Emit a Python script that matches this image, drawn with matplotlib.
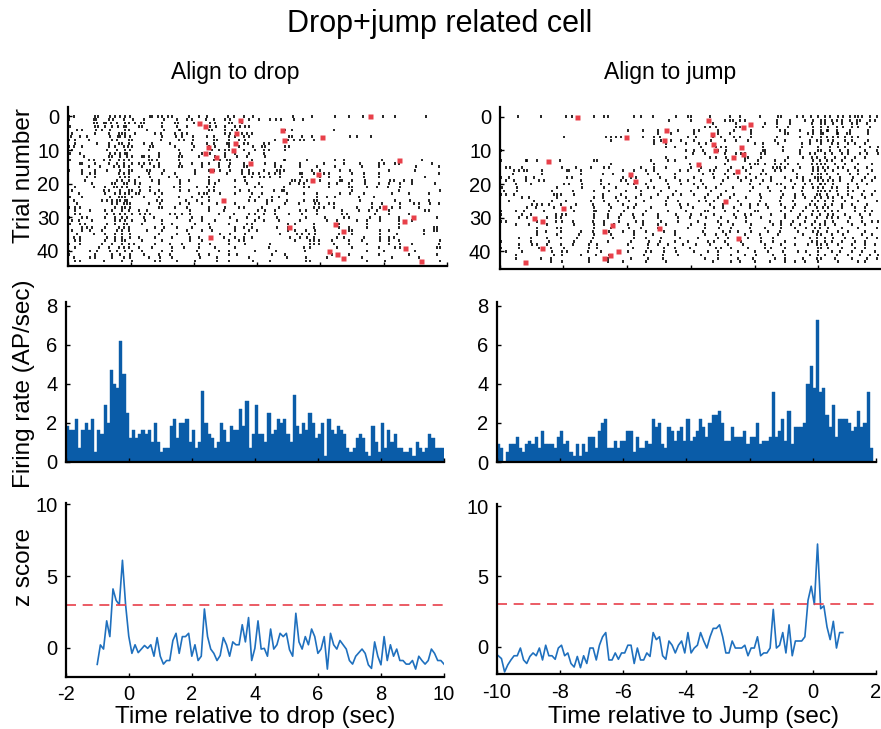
import numpy as np
import matplotlib.pyplot as plt

plt.rcParams['font.family'] = ['Liberation Sans', 'DejaVu Sans']
plt.rcParams['axes.unicode_minus'] = False

nan = np.nan

# spike times (s) per trial, aligned to drop
drop_spikes = [
    [-1.95, -1.79, -1.12, -1.04, -0.65, -0.49, -0.33, -0.17, -0.02, 0.59, 0.67, 0.86, 0.98, 1.17, 1.30, 1.85, 2.15, 2.42, 3.06, 3.25, 3.58, 3.86, 5.12, 5.74, 6.45, 6.90, 7.35, 7.98, 8.35, 9.35],
    [-1.97, -1.18, -1.09, -0.70, -0.57, -0.23, 0.07, 0.41, 1.04, 1.46, 1.78, 1.94, 2.38, 2.62, 2.99, 3.15, 3.73, 4.05, 4.42, 4.60, 4.76, 5.15, 5.45],
    [-1.16, -1.07, -0.86, -0.78, -0.63, -0.44, -0.17, -0.07, 0.12, 0.32, 0.41, 0.98, 1.41, 1.49, 1.99, 2.52, 2.65, 3.10, 3.20, 3.52],
    [-1.92, -1.12, -1.04, -0.81, -0.60, -0.41, -0.23, -0.15, 0.27, 0.35, 0.98, 1.46, 1.78, 2.52, 2.70, 2.99, 3.31, 3.47, 3.60, 3.73],
    [-1.70, -1.55, -1.10, -0.91, -0.65, -0.17, -0.07, 0.51, 1.04, 1.51, 1.57, 2.46, 2.57, 2.99, 3.20, 3.36, 4.89, 5.10, 6.42],
    [-1.86, -1.12, -0.70, -0.39, -0.28, -0.17, 0.14, 0.75, 0.96, 1.41, 1.62, 1.78, 2.99, 3.13, 3.52, 3.67, 3.83],
    [-1.90, -1.60, -1.39, -0.65, -0.41, -0.33, -0.20, -0.02, 0.98, 1.43, 1.62, 1.96, 2.41, 2.62, 3.12, 3.31, 3.57, 3.73, 5.00, 5.10, 5.42, 5.74, 6.95, 7.16, 7.61],
    [-1.97, -1.76, -1.34, -0.60, -0.44, -0.07, 0.04, 0.95, 1.53, 1.67, 1.97, 2.62, 2.73, 3.12, 3.41, 3.60, 4.57, 4.97, 5.15, 5.37, 5.47, 5.79],
    [-1.76, -1.07, -0.70, -0.39, -0.28, -0.07, 0.41, 0.67, 1.25, 1.94, 2.41, 2.62, 3.04, 3.10, 3.57, 3.70, 4.20, 4.36],
    [-1.95, -1.81, -1.55, -0.70, -0.49, -0.23, -0.09, 0.04, 0.60, 0.70, 1.41, 1.99, 2.46, 2.67, 3.10, 3.41, 3.88, 4.15, 4.26, 4.87, 5.00],
    [-1.86, -0.76, -0.44, -0.17, -0.02, 0.56, 1.51, 1.94, 2.57, 2.80, 2.99, 3.10, 3.57, 3.94, 4.20, 4.38, 4.89],
    [-1.92, -1.60, -0.65, -0.49, -0.33, -0.17, -0.12, 0.88, 1.57, 2.25, 2.36, 2.52, 2.99, 3.31, 3.73, 4.20],
    [-1.49, -0.70, -0.60, -0.33, -0.12, 0.04, 0.35, 0.40, 0.56, 0.88, 1.51, 1.62, 2.15, 2.67, 2.99, 3.36, 3.67, 4.26],
    [-1.92, -1.34, -1.18, -0.86, -0.65, -0.39, -0.23, -0.07, 0.56, 0.67, 0.82, 1.51, 2.62, 2.83, 3.04, 3.15, 3.83, 4.84, 4.89, 5.58, 6.47, 6.74, 7.95, 9.22],
    [-1.60, -1.55, -1.12, -0.70, -0.44, -0.23, 0.04, 0.25, 0.40, 0.61, 0.88, 1.57, 1.94, 2.25, 2.46, 2.78, 3.15, 3.57, 4.26, 4.57, 5.37, 6.10, 6.74, 7.27, 7.85, 8.00, 8.35, 8.48, 9.54],
    [-1.34, -0.97, -0.54, -0.39, -0.23, -0.07, 0.35, 0.72, 0.88, 1.51, 1.62, 2.25, 2.78, 3.10, 3.57, 3.67, 4.57, 4.76, 5.37, 5.89, 6.47, 7.32, 7.85, 9.04, 9.75],
    [-1.97, -1.55, -1.12, -0.76, -0.33, -0.07, 0.04, 0.51, 0.61, 1.04, 2.04, 2.46, 2.62, 2.83, 3.15, 3.52, 3.73, 4.20, 4.63, 4.73, 4.84, 5.74, 6.00, 6.63, 6.95, 8.16, 9.01],
    [-1.55, -1.28, -1.12, -0.39, -0.23, -0.07, 0.56, 0.98, 1.41, 2.04, 3.04, 3.52, 3.73, 3.88, 4.05, 4.36, 4.57, 4.73, 5.37, 5.42, 5.79, 6.10, 6.26, 7.00, 7.37, 7.85, 9.75],
    [-1.39, -1.12, -0.33, -0.17, -0.07, 0.25, 0.61, 1.20, 1.46, 2.46, 3.57, 3.62, 3.83, 4.10, 4.20, 4.42, 4.73, 5.42, 6.00, 6.26, 6.63, 7.37, 7.85, 9.32],
    [-1.99, -1.44, -0.44, -0.28, -0.07, 0.14, 0.67, 0.88, 1.57, 1.83, 2.46, 2.78, 3.31, 3.62, 5.10, 5.21, 5.37, 5.58, 6.00, 6.63, 6.68, 7.00, 7.42, 8.21, 8.32, 8.64, 8.90],
    [-1.23, -0.60, -0.49, -0.23, -0.12, 0.14, 0.30, 0.88, 1.57, 2.46, 2.67, 3.67, 4.05, 5.05, 5.31, 5.47, 6.26, 6.53, 6.90, 7.42, 7.85, 8.16, 8.53, 8.90, 9.64],
    [-1.76, -1.18, -0.81, -0.54, -0.44, -0.28, -0.12, 0.25, 0.59, 1.36, 1.57, 2.09, 2.41, 2.62, 3.31, 3.94, 4.15, 4.84, 5.47, 5.63, 6.26, 6.90, 7.00, 7.48, 7.79, 8.14, 8.53],
    [-1.86, -0.86, -0.70, -0.33, -0.07, 0.04, 0.30, 0.61, 0.88, 1.57, 1.83, 2.46, 2.62, 3.46, 3.73, 4.52, 4.79, 4.84, 7.00, 8.48, 9.80],
    [-1.99, -1.65, -0.83, -0.49, -0.33, -0.17, -0.07, 0.16, 0.27, 0.77, 0.98, 2.15, 2.30, 2.41, 2.83, 3.31, 3.83, 4.15, 4.94, 5.47, 5.89, 6.63, 6.95, 7.37, 8.27, 8.80, 9.43],
    [-1.92, -1.55, -0.65, -0.39, -0.28, -0.17, 0.04, 0.40, 0.88, 1.51, 1.94, 2.25, 2.46, 3.78, 4.05, 4.47, 4.68, 5.89, 6.21, 6.47, 7.21, 7.69],
    [-1.81, -0.91, -0.76, -0.60, -0.44, -0.33, -0.17, -0.12, 0.82, 0.98, 1.73, 2.09, 2.46, 3.73, 3.94, 4.31, 4.47, 4.94, 5.47, 5.79, 5.89, 7.27, 8.37, 8.85, 9.43],
    [-1.70, -0.60, -0.44, -0.23, -0.12, -0.02, 0.56, 0.93, 1.57, 1.83, 2.25, 2.73, 3.31, 4.31, 4.89, 5.31, 5.84, 5.95, 6.26, 6.42, 7.64, 7.95, 8.53, 8.96, 9.11, 9.48, 9.75],
    [-1.97, -1.76, -1.60, -0.49, -0.28, -0.17, -0.02, 0.88, 0.98, 1.41, 1.78, 2.46, 2.99, 3.41, 3.57, 4.15, 4.68, 5.79, 5.95, 6.10, 6.42, 7.16, 7.64, 7.90, 8.27, 8.53, 9.11],
    [-1.76, -1.28, -0.81, -0.60, -0.28, -0.07, 0.25, 0.51, 1.88, 2.46, 2.94, 4.02, 4.26, 4.57, 5.37, 5.53, 5.89, 6.68, 7.21, 7.53, 7.79, 8.16, 9.32, 9.43],
    [-1.76, -1.60, -0.76, -0.54, -0.33, -0.17, 0.04, 0.30, 0.46, 0.61, 1.25, 1.41, 1.62, 1.88, 2.78, 3.25, 3.73, 3.94, 4.20, 4.57, 5.00, 5.42, 5.89, 6.68, 6.84, 7.74, 8.16, 8.80],
    [-1.97, -1.55, -1.39, -0.81, -0.49, -0.28, -0.12, 0.40, 0.72, 1.46, 1.94, 2.25, 3.15, 3.67, 4.05, 4.63, 5.53, 6.16, 6.74, 6.90, 7.58, 7.90, 8.48, 9.69],
    [-1.86, -1.65, -1.23, -0.49, -0.33, -0.17, 0.04, 0.46, 0.98, 1.88, 2.25, 2.67, 3.36, 3.94, 4.20, 4.68, 5.37, 6.21, 6.53, 7.16, 7.48, 7.90, 8.48, 8.90],
    [-1.92, -1.60, -1.44, -0.76, -0.49, -0.23, -0.12, 0.35, 0.98, 1.30, 2.04, 2.46, 3.10, 3.67, 3.83, 4.99, 5.21, 5.79, 6.58, 7.48, 8.48],
    [-1.55, -1.39, -1.23, -0.81, -0.39, -0.23, -0.07, 0.77, 1.04, 1.46, 1.94, 2.52, 3.31, 3.57, 3.83, 4.63, 4.99, 5.79, 6.58, 6.90, 7.48, 8.48, 9.59, 9.69],
    [-1.86, -1.55, -1.28, -0.91, -0.44, -0.28, -0.07, 0.51, 0.98, 1.78, 2.25, 2.57, 3.31, 3.73, 3.99, 4.99, 5.21, 5.53, 5.84, 6.90, 7.00, 7.90, 8.16, 9.27, 9.59, 9.69],
    [-1.70, -1.18, -0.81, -0.49, -0.28, -0.02, 0.88, 1.46, 1.83, 2.83, 3.15, 3.62, 4.73, 5.26, 5.42, 5.63, 5.84, 6.58, 7.00, 7.90, 8.43, 9.27],
    [-1.81, -1.60, -0.76, -0.49, -0.28, -0.02, 0.25, 0.77, 1.30, 1.88, 2.15, 2.94, 3.31, 3.57, 3.83, 5.05, 5.37, 5.58, 5.79, 6.53, 6.74, 7.37, 7.90, 8.16, 8.32],
    [-1.76, -1.60, -0.81, -0.49, -0.28, -0.17, 0.35, 0.98, 1.88, 2.25, 3.10, 3.41, 3.57, 5.21, 5.68, 5.79, 5.95, 6.37, 6.90, 7.32, 7.90, 8.16, 8.48, 9.80],
    [-1.97, -1.60, -0.91, -0.60, -0.28, -0.07, 0.09, 0.77, 1.25, 1.62, 2.15, 2.52, 3.10, 3.62, 4.42, 5.68, 5.79, 5.95, 6.42, 6.90, 7.48, 8.16, 8.53, 8.90, 9.75],
    [-1.76, -1.02, -0.70, -0.39, -0.23, -0.07, 0.25, 0.67, 1.30, 1.67, 2.15, 2.67, 3.31, 4.36, 5.47, 5.68, 6.53, 7.00, 7.85, 8.37, 8.53, 9.69, 9.80],
    [-1.97, -1.28, -1.07, -0.65, -0.44, -0.17, 0.04, 0.35, 0.98, 1.30, 2.09, 2.78, 3.10, 3.94, 4.60, 5.50, 7.48, 8.00, 9.00],
    [-1.97, -1.12, -0.60, -0.33, -0.02, 0.40, 0.88, 1.25, 2.15, 2.46, 3.10, 3.36, 4.47, 4.89, 6.37, 6.90, 7.85, 8.80, 9.69],
    [-1.81, -1.28, -1.12, -0.60, -0.23, -0.02, 0.56, 0.93, 1.30, 2.20, 2.73, 3.73, 4.94, 5.53, 6.21, 7.32, 8.27, 9.11],
    [-1.76, -1.60, -0.86, -0.28, 0.04, 0.77, 0.93, 1.46, 2.04, 2.73, 3.10, 3.88, 4.42, 5.53, 5.68, 7.48, 8.06, 9.80],
]

# spike times (s) per trial, aligned to jump
jump_spikes = [
    [-9.42, -8.71, -7.92, -7.74, -7.03, -6.72, -6.61, -5.79, -5.56, -5.19, -4.46, -4.10, -3.99, -3.41, -2.78, -2.47, -1.84, -1.26, -1.16, -0.68, -0.47, -0.23, -0.02, 0.21, 0.37, 0.63, 0.79, 1.00, 1.15, 1.26, 1.36, 1.63, 1.84],
    [-4.67, -3.99, -2.94, -2.78, -2.68, -2.47, -2.31, -1.31, -0.89, -0.42, -0.16, 0.10, 0.21, 0.42, 0.58, 0.73, 1.00, 1.21, 1.31, 1.63, 1.78],
    [-3.31, -2.57, -1.68, -1.31, -0.89, -0.21, 0.10, 0.21, 0.47, 0.73, 1.05, 1.21, 1.52],
    [-3.57, -3.41, -3.20, -2.57, -2.47, -1.73, -1.31, -0.95, -0.16, 0.10, 0.31, 0.58, 0.79, 1.05, 1.26, 1.63],
    [-5.98, -5.51, -5.04, -4.41, -3.89, -3.73, -3.15, -2.63, -2.10, -1.21, -1.05, -0.58, -0.16, 0.10, 0.26, 0.31, 0.58, 1.00, 1.57],
    [-5.04, -4.62, -3.89, -3.15, -2.78, -2.10, -1.05, -0.95, -0.32, -0.16, 0.10, 0.16, 0.58, 0.63, 0.89, 1.00, 1.57],
    [-7.98, -6.66, -6.51, -6.35, -6.19, -5.51, -5.14, -4.98, -4.10, -3.83, -3.31, -3.05, -2.63, -2.47, -2.10, -1.31, -0.58, -0.21, 0.10, 0.26, 0.47, 0.63, 0.84, 1.05, 1.26],
    [-6.51, -5.14, -4.93, -4.62, -4.30, -3.89, -3.36, -2.94, -2.57, -2.21, -1.37, -1.05, -0.26, -0.05, 0.10, 0.31, 0.47, 0.84, 1.05, 1.57],
    [-5.14, -4.77, -4.15, -3.73, -3.52, -1.99, -1.73, -1.26, -0.52, -0.26, 0.10, 0.42, 0.63, 0.94, 1.15, 1.47],
    [-4.77, -4.51, -3.68, -3.20, -3.05, -2.89, -1.73, -1.10, -0.52, 0.00, 0.37, 0.63, 0.84, 1.31, 1.63, 1.89],
    [-9.97, -4.14, -3.89, -3.62, -3.15, -2.89, -1.73, -1.68, -1.10, -0.58, 0.00, 0.10, 0.37, 0.68, 0.94, 1.47, 1.84],
    [-3.94, -3.57, -2.94, -2.57, -2.42, -2.31, -1.79, -1.68, -0.58, -0.26, -0.10, 0.21, 0.42, 0.73, 0.94, 1.31, 1.52, 1.89],
    [-4.77, -4.15, -3.41, -3.20, -2.89, -2.31, -2.21, -1.79, -0.95, -0.47, -0.21, -0.05, 0.21, 0.52, 0.84, 1.15, 1.47],
    [-9.97, -9.18, -9.13, -8.82, -8.10, -7.03, -6.93, -5.25, -4.72, -4.51, -2.84, -2.31, -1.89, -1.37, -1.05, -0.16, 0.05, 0.26, 0.42, 0.73, 1.05],
    [-6.51, -5.14, -4.04, -3.73, -2.94, -2.15, -1.99, -1.89, -1.68, -1.37, -1.16, -0.95, -0.63, -0.21, -0.05, 0.10, 0.21, 0.52, 0.84, 1.26, 1.68],
    [-9.81, -9.66, -9.29, -8.03, -7.61, -7.14, -6.72, -6.56, -5.56, -5.14, -4.77, -3.99, -3.68, -3.20, -2.73, -2.36, -2.10, -1.42, -1.31, -1.21, -1.05, -0.58, -0.16, 0.00, 0.16, 0.31, 0.63, 0.79, 1.15, 1.52],
    [-9.55, -9.39, -9.24, -9.13, -8.66, -7.87, -7.82, -7.45, -6.14, -5.77, -5.40, -5.14, -4.35, -4.10, -3.73, -3.41, -3.26, -2.84, -2.26, -1.73, -1.37, -1.16, -0.79, -0.16, 0.00, 0.21, 0.47, 0.94, 1.26, 1.68],
    [-9.57, -8.66, -7.45, -6.77, -6.45, -5.35, -5.04, -4.51, -3.62, -3.31, -2.94, -2.63, -2.15, -1.79, -1.63, -0.68, -0.21, 0.00, 0.10, 0.26, 0.63, 1.00, 1.26, 1.57],
    [-9.97, -9.71, -9.18, -8.92, -7.87, -7.74, -6.14, -5.88, -5.72, -4.98, -4.51, -3.89, -3.26, -2.84, -2.52, -2.26, -1.94, -1.47, -1.05, -0.68, -0.47, -0.10, 0.00, 0.10, 0.37, 0.68, 1.10, 1.47, 1.78],
    [-9.81, -9.55, -9.18, -8.76, -8.61, -7.45, -6.82, -6.19, -6.03, -5.25, -4.77, -4.35, -4.10, -3.68, -2.99, -2.42, -2.10, -1.73, -1.47, -0.84, -0.47, -0.26, 0.00, 0.16, 0.31, 0.47, 0.68, 1.05, 1.36, 1.68],
    [-9.50, -9.03, -7.98, -7.82, -7.40, -6.82, -6.56, -5.98, -5.77, -5.40, -4.72, -4.30, -3.89, -3.62, -3.05, -2.15, -1.84, -1.31, -1.16, -0.73, -0.42, -0.21, 0.05, 0.10, 0.21, 0.47, 0.94, 1.21, 1.52],
    [-9.92, -9.45, -8.19, -7.40, -6.72, -6.35, -5.72, -5.35, -5.14, -4.67, -3.78, -3.52, -3.20, -2.68, -2.05, -1.58, -1.05, -0.79, -0.47, -0.16, 0.00, 0.16, 0.42, 0.58, 0.94, 1.26],
    [-9.87, -9.45, -8.34, -7.71, -7.03, -6.56, -6.03, -5.56, -4.93, -4.46, -3.99, -3.36, -2.89, -2.15, -1.52, -1.16, -0.52, 0.00, 0.10, 0.21, 0.37, 0.58, 0.94, 1.10, 1.42, 1.78],
    [-9.97, -9.81, -9.55, -8.29, -8.19, -8.08, -7.66, -6.77, -6.19, -5.56, -5.04, -4.56, -4.30, -3.89, -3.47, -3.05, -2.63, -1.84, -1.10, -0.73, -0.47, -0.05, 0.05, 0.26, 0.63, 0.94, 1.36, 1.68],
    [-9.29, -9.08, -8.19, -7.03, -6.77, -6.35, -6.03, -5.72, -5.25, -4.72, -3.57, -3.15, -2.78, -2.26, -1.79, -1.16, -0.73, -0.42, -0.10, 0.10, 0.31, 0.47, 0.73, 1.05, 1.47],
    [-9.71, -8.92, -8.34, -7.92, -7.14, -6.72, -6.30, -5.93, -5.46, -4.77, -4.41, -3.73, -3.52, -3.26, -2.52, -1.84, -1.21, -0.79, -0.21, 0.00, 0.21, 0.47, 0.84, 1.26, 1.84],
    [-8.97, -8.82, -8.66, -8.45, -8.08, -7.61, -7.08, -6.56, -6.14, -5.72, -4.77, -4.35, -4.10, -3.41, -2.99, -2.42, -2.15, -1.89, -1.63, -1.16, -0.73, -0.26, -0.10, 0.21, 0.42, 0.73, 1.05, 1.52],
    [-9.13, -8.87, -8.29, -7.76, -7.03, -6.51, -5.98, -5.77, -5.25, -4.30, -3.94, -3.26, -2.99, -2.63, -2.15, -1.58, -1.05, -0.79, -0.37, -0.05, 0.16, 0.31, 0.73, 1.15, 1.47],
    [-9.97, -9.50, -9.24, -8.61, -7.66, -7.03, -6.98, -6.56, -6.09, -5.40, -4.72, -4.15, -3.57, -3.47, -2.94, -2.52, -1.99, -1.89, -1.16, -0.84, -0.47, -0.16, 0.00, 0.21, 0.42, 0.63, 1.15, 1.47, 1.68],
    [-9.97, -9.29, -9.03, -8.24, -8.03, -7.92, -7.03, -6.61, -6.19, -5.82, -5.51, -5.04, -4.46, -3.99, -3.68, -3.26, -2.63, -2.31, -2.10, -1.47, -1.05, -0.58, -0.21, 0.05, 0.31, 0.47, 0.84, 1.31, 1.63],
    [-9.39, -9.13, -8.50, -8.24, -8.08, -7.03, -6.61, -6.24, -5.77, -5.04, -4.41, -4.04, -3.52, -3.05, -2.57, -2.26, -1.79, -1.05, -0.63, -0.37, -0.05, 0.26, 0.42, 0.63, 1.00, 1.36],
    [-9.97, -9.81, -8.82, -8.24, -8.03, -7.71, -7.08, -6.72, -6.24, -5.72, -5.51, -4.93, -4.41, -3.78, -3.15, -2.84, -2.26, -1.52, -1.16, -0.79, -0.42, -0.10, 0.21, 0.47, 0.94, 1.36, 1.68, 1.89],
    [-9.50, -9.08, -8.50, -7.66, -7.03, -6.72, -6.40, -5.98, -5.51, -5.04, -4.77, -3.99, -3.57, -3.05, -2.68, -2.10, -1.42, -1.16, -0.84, -0.58, -0.21, 0.05, 0.21, 0.52, 1.05, 1.47],
    [-8.82, -8.19, -8.08, -7.03, -6.51, -5.93, -5.56, -5.04, -4.10, -3.57, -3.10, -2.73, -2.15, -1.68, -1.16, -0.73, -0.37, -0.10, 0.05, 0.31, 0.73, 1.26, 1.84],
    [-8.82, -8.55, -8.08, -7.45, -7.08, -6.56, -6.14, -5.77, -5.40, -4.83, -4.51, -3.62, -2.99, -2.78, -2.52, -2.10, -1.58, -1.21, -0.63, -0.16, 0.00, 0.26, 0.63, 0.94, 1.47],
    [-8.82, -8.19, -7.50, -7.03, -6.51, -5.77, -5.19, -4.51, -3.57, -3.20, -2.89, -2.31, -1.84, -1.26, -0.47, -0.05, 0.10, 0.42, 0.79, 1.36, 1.68],
    [-9.39, -9.03, -8.50, -8.08, -7.56, -7.08, -6.45, -5.77, -5.40, -4.93, -4.35, -3.78, -3.15, -2.84, -2.21, -1.79, -1.42, -0.73, -0.26, -0.05, 0.21, 0.47, 0.84, 1.10, 1.52, 1.84],
    [-9.97, -9.03, -8.45, -7.66, -7.14, -6.61, -5.88, -5.30, -4.98, -4.51, -4.10, -3.47, -3.26, -2.94, -2.42, -1.79, -1.42, -1.05, -0.21, -0.05, 0.21, 0.42, 0.73, 1.15, 1.47],
    [-9.39, -8.97, -8.82, -8.50, -8.08, -7.71, -7.19, -6.93, -5.98, -5.35, -5.04, -4.72, -4.25, -3.83, -3.41, -2.84, -2.36, -1.68, -1.16, -0.73, -0.32, -0.05, 0.10, 0.26, 0.63, 1.05, 1.47, 1.78],
    [-9.97, -9.39, -8.76, -8.40, -7.98, -7.19, -6.93, -5.82, -5.35, -4.83, -4.51, -4.04, -3.20, -3.05, -2.73, -2.21, -1.68, -1.47, -1.05, 0.00, 0.10, 0.31, 0.73, 1.15, 1.47],
    [-9.81, -9.29, -8.34, -8.03, -7.87, -7.24, -6.82, -5.98, -5.40, -5.25, -4.83, -4.46, -3.89, -3.47, -3.15, -2.52, -1.99, -1.58, -1.10, -0.63, -0.37, 0.00, 0.42, 0.68, 1.05, 1.36, 1.78],
    [-9.50, -8.29, -8.03, -7.45, -6.98, -6.56, -5.46, -4.88, -4.41, -3.68, -3.15, -2.73, -2.31, -1.94, -1.42, -1.05, -0.26, 0.00, 0.21, 0.58, 0.94, 1.31, 1.63, 1.89],
    [-9.50, -8.71, -8.40, -7.19, -6.61, -5.88, -5.35, -4.88, -3.57, -3.15, -2.52, -2.05, -1.37, -1.05, -0.47, -0.05, 0.10, 0.52, 1.05, 1.52, 1.84],
    [-8.40, -8.03, -7.19, -6.61, -6.14, -5.40, -4.77, -3.31, -2.73, -2.47, -1.99, -1.52, -1.05, -0.73, -0.42, 0.00, 0.63, 1.26, 1.47],
]

# jump time relative to drop for each trial (nan: jump later than 10 s)
jump_delay = [7.57, 3.45, 2.15, 2.36, 4.78, 3.34, 6.04, 4.84, 3.30, 2.44,
              3.23, 2.36, 2.69, 8.48, 3.77, nan, 2.54, 5.91, nan, 5.75,
              nan, nan, nan, nan, nan, 2.93, nan, 8.00, nan, nan,
              8.92, 8.66, 6.46, 5.00, 6.72, nan, 2.51, nan, nan, 8.68,
              6.27, 6.52, 6.73, 9.20]

# firing rate (AP/sec), 0.1 s bins
drop_rate = [1.8, 1.6, 1.6, 2.2, 0.7, 1.6, 2.0, 1.6, 2.2, 0.5,
             1.6, 1.4, 2.9, 2.0, 4.7, 4.0, 3.8, 6.2, 4.5, 2.5,
             1.2, 1.6, 1.2, 1.4, 1.6, 1.4, 1.6, 1.0, 2.0, 1.0,
             0.5, 0.7, 0.7, 1.8, 2.2, 1.2, 2.0, 2.0, 2.2, 1.0,
             1.6, 0.7, 1.0, 3.6, 2.0, 1.4, 1.2, 0.7, 1.0, 2.0,
             1.6, 1.0, 1.8, 1.6, 1.6, 2.7, 1.8, 3.1, 0.7, 1.4,
             2.9, 1.4, 1.4, 1.0, 2.5, 1.4, 1.6, 2.2, 2.0, 2.2,
             1.4, 1.0, 3.4, 1.8, 1.4, 2.0, 1.6, 2.5, 2.0, 1.2,
             1.4, 2.0, 0.3, 2.2, 1.6, 1.4, 1.8, 1.6, 1.4, 0.7,
             0.5, 0.7, 1.2, 1.4, 1.2, 0.5, 0.3, 1.8, 1.0, 0.5,
             2.0, 0.7, 1.6, 1.0, 1.4, 0.7, 0.7, 0.5, 0.5, 0.7,
             0.3, 1.0, 0.7, 0.5, 0.7, 1.4, 1.2, 0.7, 0.7, 0.7]
jump_rate = [0.9, 0.7, 0.0, 0.5, 0.9, 0.9, 1.3, 0.7, 0.5, 0.9,
             1.1, 0.9, 1.3, 0.7, 1.6, 0.9, 0.9, 0.9, 0.7, 1.3,
             1.6, 0.9, 1.1, 0.5, 0.3, 0.9, 0.3, 0.9, 0.5, 1.3,
             1.3, 0.7, 1.6, 2.0, 2.2, 0.7, 0.7, 1.1, 0.7, 1.1,
             1.1, 1.6, 1.6, 0.5, 1.3, 0.7, 0.7, 1.1, 0.9, 2.2,
             1.8, 2.0, 0.9, 0.7, 1.8, 1.6, 1.1, 1.6, 1.8, 1.1,
             2.2, 1.1, 1.3, 1.6, 2.2, 1.8, 1.3, 2.0, 2.4, 2.4,
             2.6, 2.0, 1.1, 1.1, 1.8, 1.3, 1.3, 1.3, 1.6, 0.9,
             1.3, 1.3, 2.0, 0.9, 1.1, 1.1, 1.3, 3.6, 1.3, 1.6,
             2.2, 1.1, 2.6, 0.9, 1.8, 1.8, 1.8, 2.0, 4.0, 4.9,
             3.8, 7.3, 3.6, 3.8, 2.4, 1.8, 2.9, 1.3, 2.2, 2.2,
             2.2, 2.0, 1.6, 1.8, 2.6, 1.8, 2.0, 3.6, 0.7, 0.0]

# z scored firing rate
drop_z = [-1.17, 0.19, -0.1, 1.87, 0.77, 4.1, 3.3, 3.0, 6.1, 3.0,
          0.8, -0.4, 0.2, -0.35, -0.1, 0.15, -0.05, 0.2, -0.6, 0.7,
          -0.6, -1.15, -0.9, -0.9, 0.5, 1.0, -0.4, 0.77, 0.77, 1.0,
          -0.6, 0.2, -0.9, -0.6, 2.7, 0.77, -0.1, -0.4, -0.9, -0.55,
          0.7, 0.2, -0.6, 0.4, 0.2, 0.2, 1.6, 0.4, 2.1, -0.9,
          -0.05, 1.87, -0.1, -0.05, -0.6, 1.3, -0.1, 0.2, 1.0, 0.77,
          1.0, -0.15, -0.6, 2.4, 0.4, -0.1, 0.77, 0.2, 1.3, 0.77,
          -0.4, -0.1, 0.77, -1.5, 1.0, 0.2, -0.1, 0.5, 0.2, -0.1,
          -0.9, -1.15, -0.6, -0.35, -0.1, -0.4, -1.2, -1.45, 0.4, -0.6,
          -1.2, 0.77, -0.9, 0.2, -0.6, -0.1, -0.9, -0.9, -1.15, -1.15,
          -0.9, -1.5, -0.6, -0.9, -1.15, -0.9, -0.1, -0.4, -0.9, -0.9,
          -1.15]
jump_z = [-0.65, -0.85, -1.8, -1.3, -0.95, -0.65, -0.65, -0.1, -0.95, -1.2,
          -0.7, -0.45, -0.65, -0.1, -0.95, 0.1, -0.65, -0.65, -0.9, -0.1,
          0.1, -0.65, -0.45, -1.2, -1.45, -0.7, -1.5, -0.65, -1.2, -0.1,
          -0.1, -0.95, 0.1, 0.7, 1.0, -0.95, -0.95, -0.45, -0.9, -0.45,
          -0.45, 0.1, 0.1, -1.2, -0.1, -0.95, -0.95, -0.45, -0.7, 1.0,
          0.5, 0.7, -0.65, -0.9, 0.4, 0.1, -0.45, 0.1, 0.4, -0.45,
          1.0, -0.45, -0.1, 0.1, 1.0, 0.4, -0.1, 0.7, 1.3, 1.3,
          1.55, 0.7, -0.45, -0.45, 0.4, -0.1, -0.1, -0.1, 0.1, -0.65,
          -0.1, -0.1, 0.7, -0.65, -0.45, -0.45, -0.1, 2.65, -0.1, 0.1,
          1.0, -0.45, 1.55, -0.65, 0.4, 0.4, 0.4, 0.7, 3.3, 4.3,
          3.0, 7.3, 2.7, 2.9, 1.4, 0.5, 1.8, -0.1, 1.0, 1.0]

z_threshold = 3

blue = '#0a5ca8'
line_blue = '#1f70be'
red = '#e8404a'


def axes_px(x0, y0, x1, y1):
    W, H = 881, 729
    return fig.add_axes([x0 / W, 1 - y1 / H, (x1 - x0) / W, (y1 - y0) / H])


def style(ax):
    for s in ['top', 'right']:
        ax.spines[s].set_visible(False)
    for s in ['left', 'bottom']:
        ax.spines[s].set_linewidth(1.6)
    ax.tick_params(direction='in', length=3, width=1, labelsize=14.5, pad=6)


fig = plt.figure(figsize=(8.81, 7.29), dpi=100)

ax_r1 = axes_px(67.7, 107, 446.7, 266)
ax_r2 = axes_px(499.6, 106.7, 882, 269)
ax_h1 = axes_px(65.7, 302, 444, 461.5)
ax_h2 = axes_px(496.7, 302, 876, 462)
ax_z1 = axes_px(65.7, 503, 444, 676.7)
ax_z2 = axes_px(496.7, 504, 876, 674.3)

n_trials = len(drop_spikes)
trials = np.arange(n_trials)
delay = np.array(jump_delay)

# rasters
ax_r1.eventplot(drop_spikes, lineoffsets=trials, linelengths=0.8, colors='k', linewidths=1.2)
ax_r1.plot(delay, trials, 's', color=red, ms=3.6, mec='none')
ax_r2.eventplot(jump_spikes, lineoffsets=trials, linelengths=0.8, colors='k', linewidths=1.2)
ax_r2.plot(-delay, trials, 's', color=red, ms=3.6, mec='none')
ax_r1.set_xlim(-2, 10)
ax_r1.set_ylim(44.5, -2.8)
ax_r2.set_xlim(-10, 2)
ax_r2.set_ylim(45.2, -3.0)
for ax in (ax_r1, ax_r2):
    ax.set_yticks([0, 10, 20, 30, 40])
    ax.tick_params(labelbottom=False)
ax_r1.set_xticks(np.arange(-2, 11, 2))
ax_r2.set_xticks(np.arange(-10, 3, 2))

# firing rate histograms
bin_w = 0.1
drop_edges = -2 + bin_w * np.arange(len(drop_rate))
jump_edges = -10 + bin_w * np.arange(len(jump_rate))
ax_h1.bar(drop_edges, drop_rate, width=bin_w, align='edge', color=blue, edgecolor=blue, linewidth=0.3)
ax_h2.bar(jump_edges, jump_rate, width=bin_w, align='edge', color=blue, edgecolor=blue, linewidth=0.3)
ax_h1.set_xlim(-2, 10)
ax_h2.set_xlim(-10, 2)
for ax in (ax_h1, ax_h2):
    ax.set_ylim(0, 8.2)
    ax.set_yticks([0, 2, 4, 6, 8])
    ax.tick_params(labelbottom=False)
ax_h1.set_xticks(np.arange(-2, 11, 2))
ax_h2.set_xticks(np.arange(-10, 3, 2))

# z scores
drop_t = -1 + bin_w * np.arange(len(drop_z))
jump_t = -9.95 + bin_w * np.arange(len(jump_z))
ax_z1.plot(drop_t, drop_z, color=line_blue, lw=1.2)
ax_z2.plot(jump_t, jump_z, color=line_blue, lw=1.2)
for ax in (ax_z1, ax_z2):
    ax.axhline(z_threshold, color=red, lw=1.2, ls=(0, (6, 4)))
    ax.set_yticks([0, 5, 10])
ax_z1.set_xlim(-2, 10)
ax_z1.set_ylim(-2.03, 10.1)
ax_z2.set_xlim(-10, 2)
ax_z2.set_ylim(-1.97, 10.15)
ax_z1.set_xticks(np.arange(-2, 11, 2))
ax_z2.set_xticks(np.arange(-10, 3, 2))

for ax in (ax_r1, ax_r2, ax_h1, ax_h2, ax_z1, ax_z2):
    style(ax)

# titles and labels
fig.text(440 / 881, 1 - 24 / 729, 'Drop+jump related cell', ha='center', va='center', fontsize=22)
fig.text(235 / 881, 1 - 72 / 729, 'Align to drop', ha='center', va='center', fontsize=16.5)
fig.text(670 / 881, 1 - 72 / 729, 'Align to jump', ha='center', va='center', fontsize=16.5)
fig.text(24 / 881, 1 - 176 / 729, 'Trial number', ha='center', va='center', rotation=90, fontsize=17.5)
fig.text(24 / 881, 1 - 384 / 729, 'Firing rate (AP/sec)', ha='center', va='center', rotation=90, fontsize=17.5)
fig.text(24 / 881, 1 - 567 / 729, 'z score', ha='center', va='center', rotation=90, fontsize=17.5)
fig.text(255 / 881, 1 - 717 / 729, 'Time relative to drop (sec)', ha='center', va='center', fontsize=17.5)
fig.text(694 / 881, 1 - 717 / 729, 'Time relative to Jump (sec)', ha='center', va='center', fontsize=17.5)

fig.savefig('out.png', dpi=100)
